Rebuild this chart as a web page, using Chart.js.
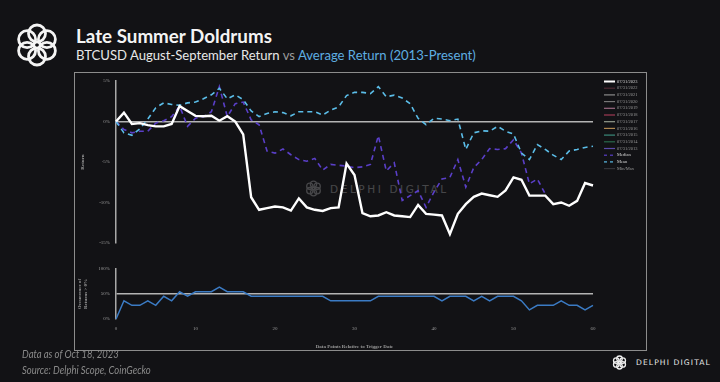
<!DOCTYPE html>
<html>
<head>
<meta charset="utf-8">
<script src="https://cdn.jsdelivr.net/npm/chart.js@4.4.0/dist/chart.umd.min.js"></script>
<style>
  html, body { margin: 0; padding: 0; }
  body { width: 720px; height: 382px; background: #121215; position: relative; overflow: hidden; font-family: Lato, "Open Sans", sans-serif; }
  .title { position: absolute; left: 76px; top: 26px; font-size: 18.8px; font-weight: bold; color: #f4f4f4; line-height: 20px; white-space: nowrap; }
  .subtitle { position: absolute; left: 76px; top: 47px; font-size: 13.1px; color: #e8e8e8; line-height: 16px; white-space: nowrap; }
  .subtitle .vs { color: #9a9a9a; }
  .subtitle .avg { color: #5eaee2; }
  .frame { position: absolute; left: 74px; top: 72px; width: 571px; height: 277px; border: 1px solid #8c8c8c; }
  .watermark { position: absolute; left: 305px; top: 180px; height: 17px; display: flex; align-items: center; opacity: 0.22; white-space: nowrap; }
  .watermark span { color: #fff; font-family: "DejaVu Sans", sans-serif; font-size: 10.5px; letter-spacing: 2.6px; margin-left: 8px; }
  .footer { position: absolute; left: 22px; font-style: italic; color: #8a8a8a; font-size: 11px; white-space: nowrap; transform-origin: left center; transform: scaleX(0.86); }
  .brand { position: absolute; left: 612px; top: 355px; display: flex; align-items: center; white-space: nowrap; }
  .brand span { color: #e8e8e8; font-family: "DejaVu Sans", sans-serif; font-size: 7.6px; letter-spacing: 1.1px; margin-left: 9px; }
  canvas { position: absolute; }
</style>
</head>
<body>
<svg style="position:absolute;left:14px;top:22px" width="46" height="46" viewBox="0 0 46 46">
  <g fill="none" stroke="#f4f4f4" stroke-width="2.8">
    <circle cx="23" cy="11.5" r="8.5"/>
    <circle cx="32.9" cy="17.2" r="8.5"/>
    <circle cx="32.9" cy="28.8" r="8.5"/>
    <circle cx="23" cy="34.5" r="8.5"/>
    <circle cx="13.1" cy="28.8" r="8.5"/>
    <circle cx="13.1" cy="17.2" r="8.5"/>
  </g>
</svg>
<div class="title">Late Summer Doldrums</div>
<div class="subtitle">BTCUSD August-September Return <span class="vs">vs</span> <span class="avg">Average Return (2013-Present)</span></div>
<div class="frame"></div>
<div class="watermark">
  <svg width="17" height="17" viewBox="0 0 46 46"><g fill="none" stroke="#fff" stroke-width="3.5">
    <circle cx="23" cy="11.5" r="8.5"/><circle cx="32.9" cy="17.2" r="8.5"/><circle cx="32.9" cy="28.8" r="8.5"/>
    <circle cx="23" cy="34.5" r="8.5"/><circle cx="13.1" cy="28.8" r="8.5"/><circle cx="13.1" cy="17.2" r="8.5"/></g></svg>
  <span>DELPHI DIGITAL</span>
</div>
<canvas id="mainChart" style="left:74px;top:72px" width="572" height="180"></canvas>
<canvas id="occChart" style="left:74px;top:252px" width="572" height="98"></canvas>
<div class="footer" style="top:347px">Data as of Oct 18, 2023</div>
<div class="footer" style="top:363px">Source: Delphi Scope, CoinGecko</div>
<div class="brand">
  <svg width="15" height="15" viewBox="0 0 46 46"><g fill="none" stroke="#eee" stroke-width="4">
    <circle cx="23" cy="11.5" r="8.5"/><circle cx="32.9" cy="17.2" r="8.5"/><circle cx="32.9" cy="28.8" r="8.5"/>
    <circle cx="23" cy="34.5" r="8.5"/><circle cx="13.1" cy="28.8" r="8.5"/><circle cx="13.1" cy="17.2" r="8.5"/></g></svg>
  <span>DELPHI DIGITAL</span>
</div>
<script>
// x axis: data points relative to trigger date
const days = [0,1,2,3,4,5,6,7,8,9,10,11,12,13,14,15,16,17,18,19,20,21,22,23,24,25,26,27,28,29,30,
  31,32,33,34,35,36,37,38,39,40,41,42,43,44,45,46,47,48,49,50,51,52,53,54,55,56,57,58,59,60];

// returns in %
const btc2023 = [0,1.1,-0.3,-0.2,-0.45,-0.6,-0.6,-0.3,1.9,1.3,0.7,0.65,0.7,0.1,0.65,0,-1.6,-9.35,-10.9,-10.7,
  -10.5,-10.6,-11,-9.5,-10.6,-10.9,-11.05,-10.7,-10.6,-5.2,-6.6,-11.3,-11.7,-11.6,-11.2,-11.6,-11.7,-11.8,-10.3,-11.4,
  -11.5,-11.6,-13.9,-11.4,-10.2,-9.3,-8.9,-9.1,-9.3,-8.5,-6.9,-7.2,-9.15,-9.15,-9.15,-10.2,-10,-10.4,-9.8,-7.6,-7.9];
const medianReturn = [0,-1.0,-1.4,-1.2,-1.2,-0.2,0.1,0.6,1.9,-0.6,0.4,0.6,1.2,4.3,0.6,2.2,2.4,0.2,-0.4,-3.65,
  -3.9,-3.4,-4.1,-4.7,-4.9,-4.55,-6.0,-5.3,-5.4,-5.5,-5.7,-5.6,-5.3,-1.75,-6.1,-5.1,-9.75,-9.15,-8.55,-10.6,
  -8.7,-7.1,-6.9,-4.7,-8.1,-5.7,-4.7,-3.35,-3.45,-3.35,-2.25,-3.9,-7.7,-7.1,-8.95,null,null,null,null,null,null];
const meanReturn = [0,-1.4,-1.7,-0.9,0.3,1.7,2.3,2.1,2.0,2.3,2.4,2.8,3.3,4.1,2.8,3.3,2.7,1.3,0.6,1.0,
  1.2,1.1,0.7,1.2,1.2,1.2,0.8,1.4,1.8,3.2,3.6,3.6,3.45,4.3,3.05,3.25,2.9,2.2,0.4,-0.4,
  0.4,0.3,0.1,0.3,-3.45,-1.4,-1.15,-1.2,-0.6,-1.2,-1.55,-3.9,-4.7,-2.85,-3.45,-4.15,-4.7,-3.65,-3.45,-3.2,-3.05];

// share of years with return > 0%
const occurrence = [0,36.4,27.3,27.3,36.4,27.3,45.5,36.4,54.5,45.5,54.5,54.5,54.5,63.6,54.5,54.5,54.5,45.5,45.5,45.5,
  45.5,45.5,45.5,45.5,45.5,45.5,45.5,36.4,36.4,36.4,36.4,36.4,36.4,45.5,45.5,45.5,45.5,45.5,45.5,45.5,
  45.5,36.4,45.5,45.5,45.5,36.4,45.5,36.4,45.5,45.5,45.5,36.4,18.2,27.3,27.3,27.3,36.4,27.3,27.3,18.2,27.3];

const legendLabels = ["07/31/2023","07/31/2022","07/31/2021","07/31/2020","07/31/2019","07/31/2018","07/31/2017",
  "07/31/2016","07/31/2015","07/31/2014","07/31/2013","Median","Mean","Min/Max"];
const legendColors = ["#ffffff","#4e2a33","#8a8a8a","#767676","#9a6a82","#a03a55","#959c8e",
  "#ad8650","#3a8a7a","#2a6a4c","#5a4aa8","#5a3fc8","#5bbde8","#333338"];

const axisGrey = "#a8a8a8";
const tickFont = { family: "Liberation Serif", size: 5 };

// custom legend drawn at the right of the plot
const sideLegend = {
  id: "sideLegend",
  afterDraw(chart) {
    const ctx = chart.ctx;
    const x0 = chart.chartArea.right + 11;
    ctx.save();
    ctx.font = "4.5px 'Liberation Serif'";
    ctx.textBaseline = "middle";
    legendLabels.forEach((label, i) => {
      const y = 9.5 + i * 6.7;
      ctx.strokeStyle = legendColors[i];
      ctx.lineWidth = i === 0 ? 2 : 1.2;
      ctx.setLineDash(label === "Median" || label === "Mean" ? [3, 3] : []);
      ctx.beginPath();
      ctx.moveTo(x0, y);
      ctx.lineTo(x0 + 11, y);
      ctx.stroke();
      ctx.fillStyle = i === 0 || label === "Median" || label === "Mean" ? "#d8d8d8" : "#9a9a9a";
      ctx.fillText(label, x0 + 13, y);
    });
    ctx.restore();
  }
};

new Chart(document.getElementById("mainChart"), {
  type: "line",
  data: {
    labels: days,
    datasets: [
      { label: "07/31/2023", data: btc2023, borderColor: "#ffffff", borderWidth: 2.4, order: 0 },
      { label: "Median", data: medianReturn, borderColor: "#5a3fc8", borderWidth: 1.6, borderDash: [5, 4], order: 2 },
      { label: "Mean", data: meanReturn, borderColor: "#5bbde8", borderWidth: 1.6, borderDash: [5, 4], order: 1 },
    ],
  },
  options: {
    responsive: false,
    animation: false,
    layout: { padding: { top: 7, bottom: 9, left: 0, right: 53 } },
    elements: { point: { radius: 0 }, line: { tension: 0 } },
    plugins: { legend: { display: false }, tooltip: { enabled: false } },
    scales: {
      x: { display: false },
      y: {
        min: -15,
        max: 5,
        afterFit: (scale) => { scale.width = 42; },
        border: { display: true, color: axisGrey, width: 1.5 },
        grid: {
          drawTicks: false,
          color: (c) => (c.tick && c.tick.value === 0 ? "#b4b4b4" : "transparent"),
          lineWidth: 1.5,
        },
        ticks: { stepSize: 5, padding: 6, color: "#9a9a9a", font: tickFont, callback: (v) => v + "%" },
        title: { display: true, text: "Return", color: "#9a9a9a", font: { family: "Liberation Serif", size: 5, weight: "bold" }, padding: { top: 6, bottom: 0 } },
      },
    },
  },
  plugins: [sideLegend],
});

new Chart(document.getElementById("occChart"), {
  type: "line",
  data: {
    labels: days,
    datasets: [
      { label: "Occurrence of Returns > 0%", data: occurrence, borderColor: "#3b7bc4", borderWidth: 1.5 },
    ],
  },
  options: {
    responsive: false,
    animation: false,
    layout: { padding: { top: 17, bottom: 0, left: 0, right: 53 } },
    elements: { point: { radius: 0 }, line: { tension: 0 } },
    plugins: { legend: { display: false }, tooltip: { enabled: false } },
    scales: {
      x: {
        afterFit: (scale) => { scale.height = 31; },
        border: { display: false },
        grid: { display: false, drawTicks: false },
        ticks: {
          autoSkip: false,
          maxRotation: 0,
          padding: 7,
          color: "#9a9a9a",
          font: tickFont,
          callback: function (v, i) { return days[i] % 10 === 0 ? days[i] : ""; },
        },
        title: { display: true, text: "Data Points Relative to Trigger Date", color: "#9a9a9a", font: { family: "Liberation Serif", size: 5, weight: "bold" }, padding: { top: 0, bottom: 0 } },
      },
      y: {
        min: 0,
        max: 100,
        afterFit: (scale) => { scale.width = 42; },
        border: { display: true, color: axisGrey, width: 1.5 },
        grid: {
          drawTicks: false,
          color: (c) => (c.tick && c.tick.value === 50 ? "#b4b4b4" : "transparent"),
          lineWidth: 1.5,
        },
        ticks: { stepSize: 50, padding: 6, color: "#9a9a9a", font: tickFont, callback: (v) => v + "%" },
        title: { display: true, text: ["Occurrence of", "Returns > 0%"], color: "#9a9a9a", font: { family: "Liberation Serif", size: 5, weight: "bold" }, padding: { top: 3, bottom: 0 } },
      },
    },
  },
});
</script>
</body>
</html>
